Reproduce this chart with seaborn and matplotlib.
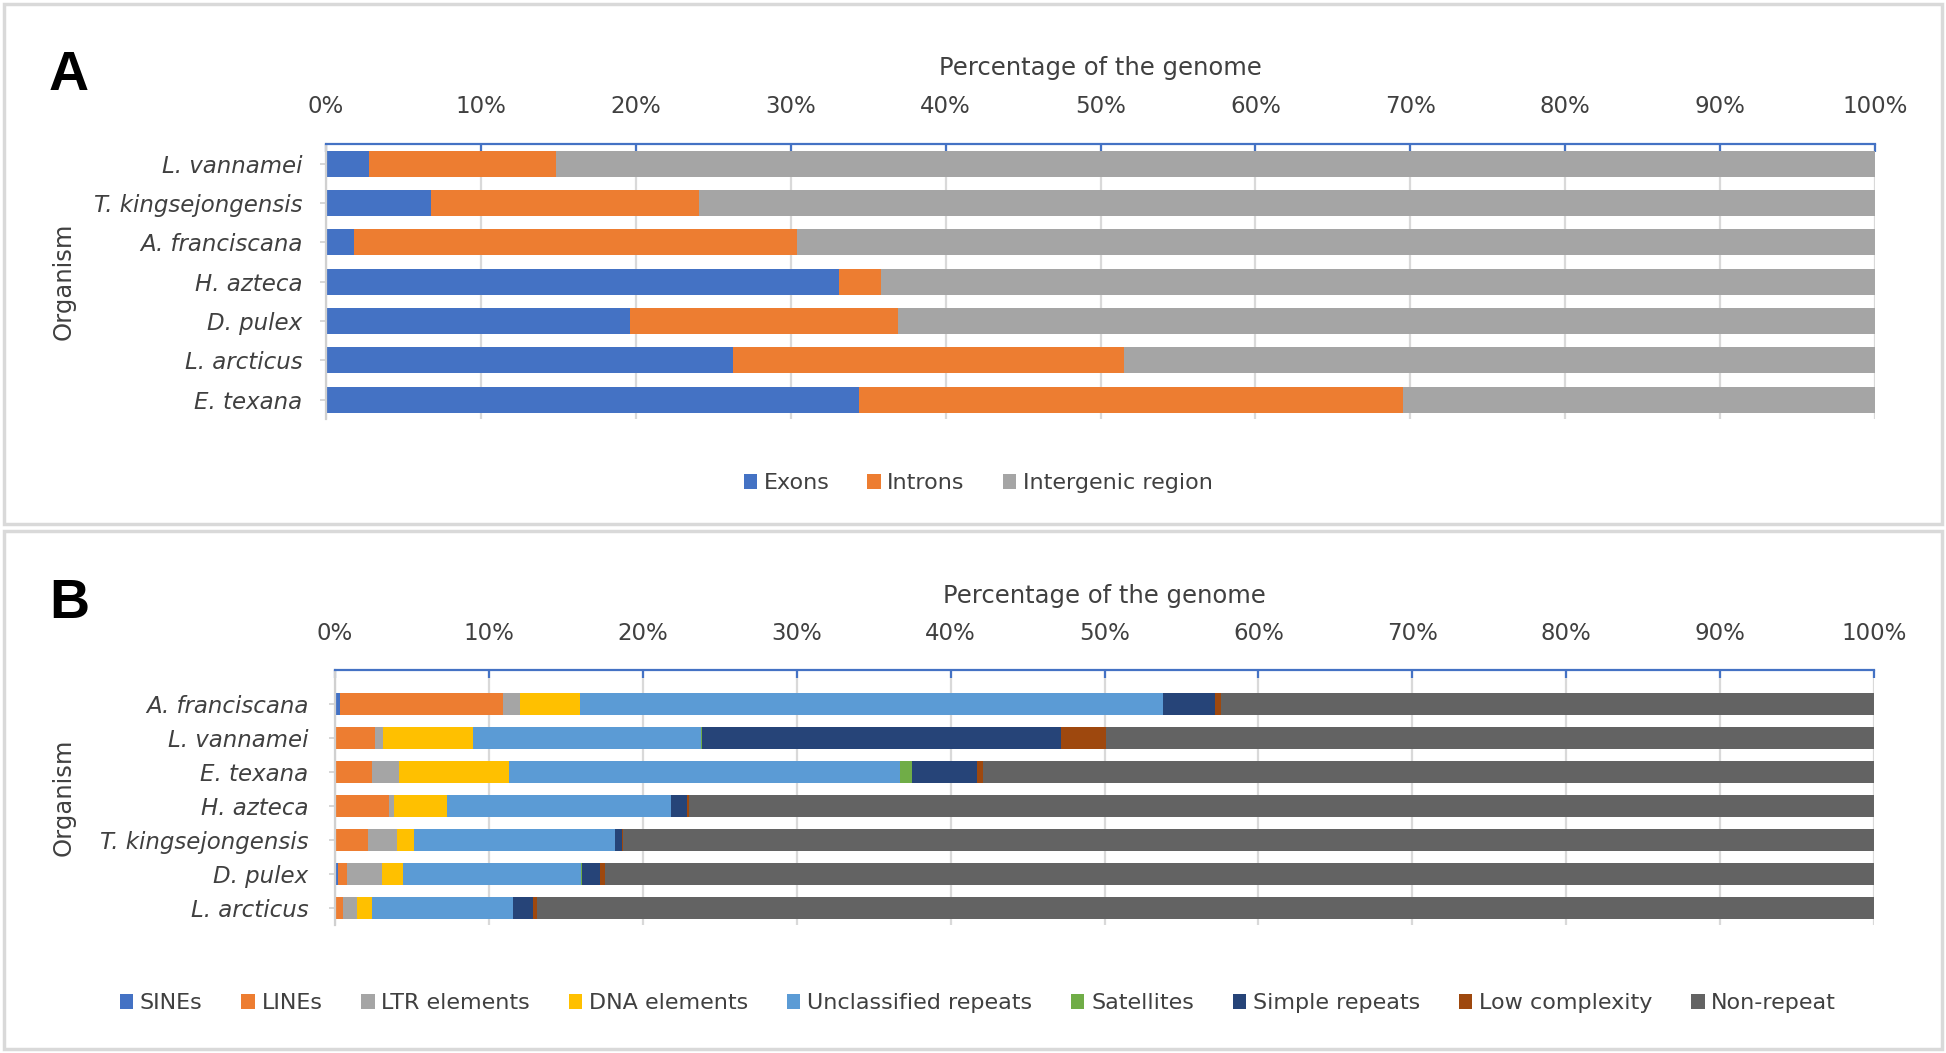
import matplotlib
matplotlib.use("Agg")
import matplotlib.pyplot as plt
from matplotlib.patches import Patch, Rectangle
import seaborn as sns
import pandas as pd
import numpy as np

# ---------------- data ----------------
species_a = ["L. vannamei", "T. kingsejongensis", "A. franciscana", "H. azteca",
             "D. pulex", "L. arcticus", "E. texana"]
exons = [2.8, 6.8, 1.8, 33.1, 19.6, 26.3, 34.4]
introns = [12.05, 17.3, 28.6, 2.7, 17.3, 25.2, 35.1]
intergenic = [85.15, 75.9, 69.6, 64.2, 63.1, 48.5, 30.5]
series_a = ["Exons", "Introns", "Intergenic region"]

species_b = ["A. franciscana", "L. vannamei", "E. texana", "H. azteca",
             "T. kingsejongensis", "D. pulex", "L. arcticus"]
sines = [0.32, 0.0, 0.0, 0.0, 0.0, 0.2, 0.0]
lines_ = [10.58, 2.62, 2.43, 3.53, 2.12, 0.6, 0.52]
ltr = [1.1, 0.5, 1.71, 0.3, 1.91, 2.23, 0.89]
dna = [3.94, 5.87, 7.16, 3.45, 1.13, 1.41, 1.02]
unclassified = [37.86, 14.77, 25.43, 14.53, 13.03, 11.52, 9.16]
satellites = [0.0, 0.08, 0.74, 0.0, 0.0, 0.09, 0.0]
simple = [3.4, 23.31, 4.22, 1.09, 0.48, 1.19, 1.3]
low_complexity = [0.35, 2.92, 0.44, 0.12, 0.05, 0.33, 0.26]
non_repeat = [42.45, 49.93, 57.87, 76.98, 81.28, 82.43, 86.85]
series_b = ["SINEs", "LINEs", "LTR elements", "DNA elements", "Unclassified repeats",
            "Satellites", "Simple repeats", "Low complexity", "Non-repeat"]

ticks = [0, 10, 20, 30, 40, 50, 60, 70, 80, 90, 100]
tick_labels = ["0%", "10%", "20%", "30%", "40%", "50%", "60%", "70%", "80%", "90%", "100%"]

colors_a = ["#4472C4", "#ED7D31", "#A5A5A5"]
colors_b = ["#4472C4", "#ED7D31", "#A5A5A5", "#FFC000", "#5B9BD5",
            "#70AD47", "#264478", "#9E480E", "#636363"]

# ---------------- style ----------------
sns.set_theme(style="white")
plt.rcParams["font.family"] = ["DejaVu Sans"]
TXT = "#404040"
FS = 16.5

W, H = 1946, 1053
fig = plt.figure(figsize=(W / 100, H / 100), dpi=100)


def fx(px):
    return px / W


def fy(py):
    return 1 - py / H


def stacked(ax, species, seg_values, seg_names, colors, width):
    df = pd.DataFrame({n: v for n, v in zip(seg_names, seg_values)})
    df["Organism"] = species
    cum = df[seg_names].cumsum(axis=1)
    for name, col in reversed(list(zip(seg_names, colors))):
        sns.barplot(x=cum[name], y=df["Organism"], color=col, saturation=1,
                    width=width, errorbar=None, orient="h", ax=ax, linewidth=0)


def style_axes(ax, ylim, pad_x, pad_y):
    ax.set_xlim(0, 100)
    ax.set_ylim(*ylim)
    ax.set_xticks(ticks)
    ax.set_xticklabels(tick_labels)
    ax.xaxis.tick_top()
    ax.xaxis.set_label_position("top")
    ax.grid(axis="x", color="#D9D9D9", lw=1.6)
    ax.set_axisbelow(True)
    for s in ["bottom", "right"]:
        ax.spines[s].set_visible(False)
    ax.spines["top"].set_color("#4472C4")
    ax.spines["top"].set_linewidth(1.6)
    ax.spines["left"].set_color("#D0D0D0")
    ax.spines["left"].set_linewidth(1.6)
    ax.tick_params(axis="x", direction="in", length=6, width=1.6, color="#4472C4",
                   labelsize=FS, labelcolor=TXT, pad=pad_x, top=True, bottom=False)
    ax.tick_params(axis="y", direction="out", length=4, width=1.2, color="#D0D0D0",
                   labelsize=FS, labelcolor=TXT, pad=pad_y, left=True)
    for lab in ax.get_yticklabels():
        lab.set_fontstyle("italic")
    ax.set_xlabel("Percentage of the genome", fontsize=17.5, color=TXT, labelpad=14)
    ax.set_ylabel("Organism", fontsize=17.5, color=TXT, labelpad=0)


# ---------------- panel A ----------------
axA = fig.add_axes([fx(326), fy(419.5), fx(1875 - 326), (419.5 - 144) / H])
stacked(axA, species_a, [exons, introns, intergenic], series_a, colors_a, 0.66)
style_axes(axA, (6.5, -0.5), 19, 13)
axA.yaxis.set_label_coords(fx(76 - 326) / fx(1875 - 326), 0.5)

# ---------------- panel B ----------------
axB = fig.add_axes([fx(335), fy(925), fx(1874 - 335), (925 - 670) / H])
stacked(axB, species_b,
        [sines, lines_, ltr, dna, unclassified, satellites, simple, low_complexity, non_repeat],
        series_b, colors_b, 0.65)
style_axes(axB, (6.5, -1.0), 18, 15)
axB.yaxis.set_label_coords(fx(76 - 335) / fx(1874 - 335), 0.5)

# ---------------- legends ----------------
hA = [Patch(facecolor=c, edgecolor="none") for c in colors_a]
fig.legend(hA, series_a, loc="center", bbox_to_anchor=(fx(978), fy(483)), ncol=3,
           frameon=False, fontsize=16, labelcolor=TXT, handlelength=0.6,
           handleheight=0.65, handletextpad=0.3, columnspacing=1.7)
hB = [Patch(facecolor=c, edgecolor="none") for c in colors_b]
fig.legend(hB, series_b, loc="center", bbox_to_anchor=(fx(978), fy(1003)), ncol=9,
           frameon=False, fontsize=16, labelcolor=TXT, handlelength=0.6,
           handleheight=0.65, handletextpad=0.3, columnspacing=1.75)

# ---------------- panel letters & frames ----------------
fig.text(fx(49), fy(76), "A", fontsize=40, fontweight="bold", color="black",
         family="Liberation Sans", va="center", ha="left")
fig.text(fx(49), fy(604), "B", fontsize=40, fontweight="bold", color="black",
         family="Liberation Sans", va="center", ha="left")
for (x0, y0, x1, y1) in [(4, 4, 1942, 524), (4, 531, 1942, 1049)]:
    fig.add_artist(Rectangle((fx(x0), fy(y1)), fx(x1 - x0), (y1 - y0) / H,
                             transform=fig.transFigure, fill=False,
                             edgecolor="#D9D9D9", lw=2.5))

fig.savefig("out.png", dpi=100, facecolor="white")
